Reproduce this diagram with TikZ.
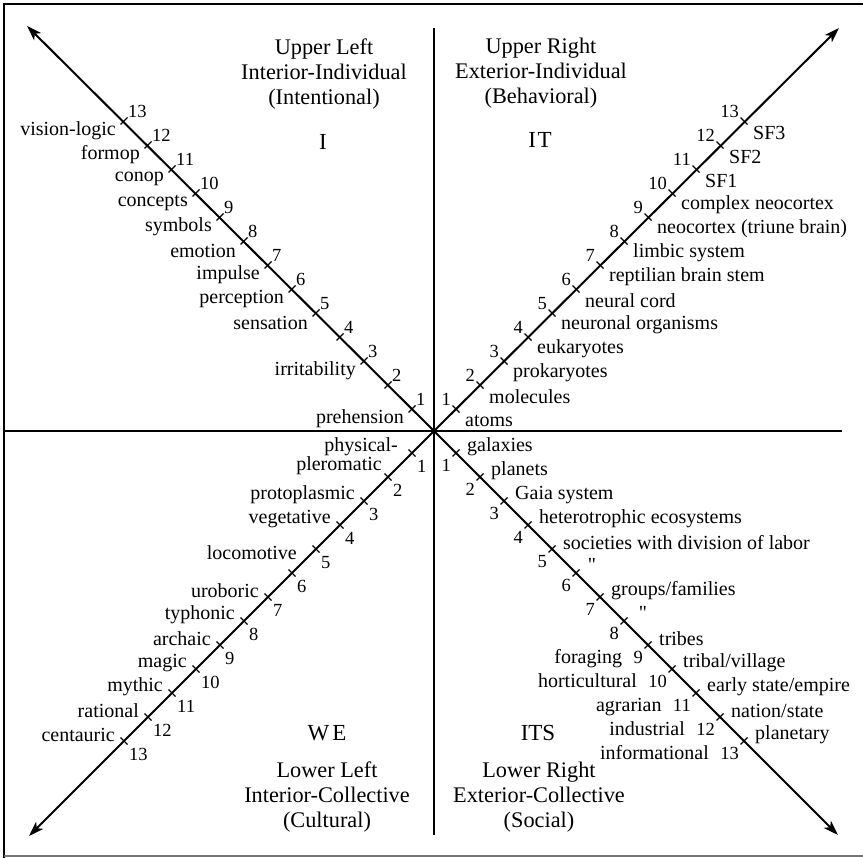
\documentclass[tikz,border=0pt]{standalone}
\usepackage{fontspec}
\setmainfont{Liberation Serif}
\newfontfamily\rawserif{Liberation Serif}[Ligatures=TeXOff]
\usetikzlibrary{arrows.meta,calc}
\begin{document}
\begin{tikzpicture}[x=1pt,y=-1pt,
  axis/.style={line width=2.4pt},
  diag/.style={line width=2pt,-{Stealth[length=15pt,width=10pt,inset=4pt]}},
  tickmark/.style={line width=1.2pt},
  lbl/.style={inner sep=0pt,font=\fontsize{20}{22}\selectfont},
  num/.style={inner sep=0pt,font=\fontsize{18.5}{20}\selectfont},
  head/.style={inner sep=0pt,align=center,font=\fontsize{22.3}{25}\selectfont},
  quad/.style={inner sep=0pt,font=\fontsize{23}{25}\selectfont}]
\useasboundingbox (0,0) rectangle (863,858);
% frame
\draw[line width=1.4pt] (4,858) -- (4,4) -- (863,4);
\draw[line width=1.2pt,black!55] (4,856) -- (863,856);
% axes
\coordinate (C) at (434,431);
\coordinate (vt) at (434,28);
\coordinate (vb) at (434,835);
\coordinate (hl) at (4,431);
\coordinate (hr) at (842,431);
\draw[axis] (vt) -- (vb);
\draw[axis] (hl) -- (hr);
% diagonals
\coordinate (ULtip) at (27,26);
\coordinate (URtip) at (839,28);
\coordinate (LLtip) at (29,836);
\coordinate (LRtip) at (838,835);
\draw[diag] (C) -- (ULtip);
\draw[diag] (C) -- (URtip);
\draw[diag] (C) -- (LLtip);
\draw[diag] (C) -- (LRtip);
% ticks and numbers
\foreach \k in {1,...,13} {
  \pgfmathsetmacro\d{22+24*(\k-1)}
  \coordinate (UL\k) at (434-\d,431-\d);
  \coordinate (UR\k) at (434+\d,431-\d);
  \coordinate (LL\k) at (434-\d,431+\d);
  \coordinate (LR\k) at (434+\d,431+\d);
  \draw[tickmark] ([shift={(3.5,-3.5)}]UL\k) -- ([shift={(-3.5,3.5)}]UL\k);
  \draw[tickmark] ([shift={(3.5,3.5)}]UR\k) -- ([shift={(-3.5,-3.5)}]UR\k);
  \draw[tickmark] ([shift={(3.5,3.5)}]LL\k) -- ([shift={(-3.5,-3.5)}]LL\k);
  \draw[tickmark] ([shift={(3.5,-3.5)}]LR\k) -- ([shift={(-3.5,3.5)}]LR\k);
  \node[num,anchor=south west] (ULn\k) at ([shift={(4,-3)}]UL\k) {\k};
  \node[num,anchor=south east] (URn\k) at ([shift={(-5,-3)}]UR\k) {\k};
  \node[num,anchor=north west] (LLn\k) at ([shift={(5,7)}]LL\k) {\k};
  \node[num,anchor=north east] (LRn\k) at ([shift={(-5,6)}]LR\k) {\k};
}
% upper left labels
\foreach \k/\t in {13/vision-logic,12/formop,11/conop,10/concepts,9/symbols,8/emotion,7/impulse,6/perception,5/sensation,3/irritability,1/prehension}
  \node[lbl,anchor=east] (ULw\k) at ([shift={(-8,10)}]UL\k) {\t};
% upper right labels
\foreach \k/\t in {1/atoms,2/molecules,3/prokaryotes,4/eukaryotes,5/neuronal organisms,6/neural cord,7/reptilian brain stem,8/limbic system,9/neocortex (triune brain),10/complex neocortex,11/SF1,12/SF2,13/SF3}
  \node[lbl,anchor=west] (URw\k) at ([shift={(9,12)}]UR\k) {\t};
% lower left labels
\foreach \k/\t in {3/protoplasmic,4/vegetative,7/uroboric,8/typhonic,9/archaic,10/magic,11/mythic,12/rational,13/centauric}
  \node[lbl,anchor=east] (LLw\k) at ([shift={(-9,-6)}]LL\k) {\t};
\node[lbl,anchor=east] (LLw1a) at ([shift={(-14,-6)}]LL1) {physical-};
\node[lbl,anchor=east] (LLw1b) at ([shift={(-30,13)}]LL1) {pleromatic};
\node[lbl,anchor=east] (LLw5) at ([shift={(-19,4)}]LL5) {locomotive};
% lower right labels
\foreach \k/\t in {1/galaxies,2/planets,3/Gaia system,4/heterotrophic ecosystems,5/societies with division of labor,7/{groups/families},9/tribes,10/{tribal/village},11/{early state/empire},12/{nation/state},13/planetary}
  \node[lbl,anchor=west] (LRw\k) at ([shift={(11,-6)}]LR\k) {\t};
\node[lbl] (LRd6) at ([shift={(16,-8)}]LR6) {\rawserif\char34};
\node[lbl] (LRd8) at ([shift={(19,-8)}]LR8) {\rawserif\char34};
\foreach \k/\t in {9/foraging,10/horticultural,11/agrarian,12/industrial,13/informational}
  \node[lbl,anchor=base east] (LRv\k) at ([xshift=-11pt]LRn\k.base west) {\t};
% quadrant headings
\node[head] (hUL) at (324,74) {Upper Left\\Interior-Individual\\(Intentional)};
\node[head] (hUR) at (541,73) {Upper Right\\Exterior-Individual\\(Behavioral)};
\node[head] (hLL) at (327,797) {Lower Left\\Interior-Collective\\(Cultural)};
\node[head] (hLR) at (539,797) {Lower Right\\Exterior-Collective\\(Social)};
\node[quad] (qI) at (323,142) {I};
\node[quad] (qIT) at (540,140) {I\kern1.5pt T};
\node[quad] (qWE) at (327,733) {W\kern3pt E};
\node[quad] (qITS) at (538,733) {ITS};
\end{tikzpicture}
\end{document}
